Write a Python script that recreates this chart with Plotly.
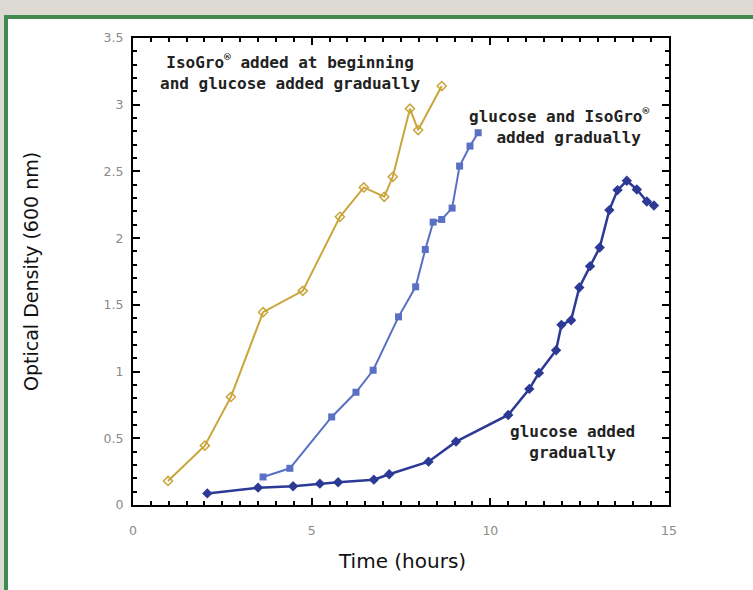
import plotly.graph_objects as go

# IsoGro added at beginning, glucose added gradually
gold_t = [0.98, 2.01, 2.74, 3.64, 4.75, 5.79, 6.46, 7.03, 7.27, 7.75, 7.98, 8.64]
gold_od = [0.18, 0.445, 0.81, 1.445, 1.605, 2.16, 2.38, 2.31, 2.46, 2.97, 2.81, 3.14]

# glucose and IsoGro added gradually
mid_t = [3.64, 4.39, 5.56, 6.24, 6.72, 7.43, 7.91, 8.18, 8.40, 8.64, 8.93, 9.14, 9.43, 9.66]
mid_od = [0.21, 0.275, 0.66, 0.845, 1.01, 1.41, 1.635, 1.915, 2.12, 2.14, 2.225, 2.54, 2.69, 2.79]

# glucose added gradually
dark_t = [2.08, 3.50, 4.48, 5.23, 5.74, 6.74, 7.17, 8.27, 9.04, 10.50, 11.09, 11.36,
          11.84, 11.99, 12.26, 12.49, 12.79, 13.06, 13.33, 13.56, 13.82, 14.10, 14.38, 14.58]
dark_od = [0.087, 0.13, 0.14, 0.16, 0.17, 0.19, 0.23, 0.325, 0.475, 0.675, 0.87, 0.99,
           1.16, 1.35, 1.385, 1.63, 1.79, 1.93, 2.21, 2.36, 2.43, 2.365, 2.275, 2.245]

x_ticks = [0, 5, 10, 15]
y_ticks = [0, 0.5, 1, 1.5, 2, 2.5, 3, 3.5]

GOLD = "#c9a53c"
MID = "#5a70c4"
DARK = "#2c3a96"

fig = go.Figure()
fig.add_trace(go.Scatter(x=gold_t, y=gold_od, mode="lines+markers",
                         line=dict(color=GOLD, width=2),
                         marker=dict(symbol="diamond-open", size=7, color=GOLD, line=dict(width=1.5))))
fig.add_trace(go.Scatter(x=mid_t, y=mid_od, mode="lines+markers",
                         line=dict(color=MID, width=2),
                         marker=dict(symbol="square", size=7, color=MID)))
fig.add_trace(go.Scatter(x=dark_t, y=dark_od, mode="lines+markers",
                         line=dict(color=DARK, width=2.5),
                         marker=dict(symbol="diamond", size=8, color=DARK)))

L, R, T, B = 133, 84, 38, 85
W, H = 753, 590
pw, ph = W - L - R, H - T - B


def px(xp):
    return (xp - L) / pw


def py(yp):
    return (H - B - yp) / ph


# outer framed panel (white with green border)
fig.add_shape(type="rect", xref="paper", yref="paper", layer="below",
              x0=px(6), x1=px(790), y0=py(640), y1=py(17),
              fillcolor="white", line=dict(color="#3f8a4c", width=4))

axis_common = dict(showline=True, linecolor="black", linewidth=2, mirror="ticks",
                   ticks="inside", ticklen=7, tickwidth=1.5, tickcolor="black",
                   showgrid=False, zeroline=False,
                   tickfont=dict(family="DejaVu Sans", size=12.5, color="#8a8a8a"))

fig.update_xaxes(range=[0, 15], tickvals=x_ticks, ticktext=[str(v) for v in x_ticks],
                 minor=dict(dtick=0.5, ticks="inside", ticklen=4, tickwidth=1.5, tickcolor="black"),
                 ticklabelstandoff=13, **axis_common)
fig.update_yaxes(range=[0, 3.5], tickvals=y_ticks, ticktext=[("%g" % v) for v in y_ticks],
                 minor=dict(dtick=0.1, ticks="inside", ticklen=4, tickwidth=1.5, tickcolor="black"),
                 ticklabelstandoff=5, **axis_common)

ann_font = dict(family="DejaVu Sans Mono", size=16, color="#222222")
annotations = [
    dict(text="<b>IsoGro<sup>®</sup> added at beginning<br>and glucose added gradually</b>",
         x=px(290), y=py(72)),
    dict(text="<b>glucose and IsoGro<sup>®</sup><br>  added gradually</b>",
         x=px(559), y=py(126)),
    dict(text="<b>glucose added<br>gradually</b>",
         x=px(572), y=py(442)),
]
for a in annotations:
    fig.add_annotation(xref="paper", yref="paper", showarrow=False, xanchor="center",
                       yanchor="middle", align="center", font=ann_font, **a)

fig.add_annotation(text="Time (hours)", xref="paper", yref="paper", x=px(402), y=py(561),
                   showarrow=False, xanchor="center", yanchor="middle",
                   font=dict(family="DejaVu Sans", size=20, color="#111111"))
fig.add_annotation(text="Optical Density (600 nm)", xref="paper", yref="paper", x=px(31), y=py(272),
                   textangle=-90, showarrow=False, xanchor="center", yanchor="middle",
                   font=dict(family="DejaVu Sans", size=19, color="#111111"))

fig.update_layout(width=W, height=H, autosize=False,
                  margin=dict(l=L, r=R, t=T, b=B),
                  paper_bgcolor="#dddad4", plot_bgcolor="white",
                  showlegend=False)

fig.write_html("out.html", config={"displayModeBar": False},
               post_script="document.body.style.margin='0';document.body.style.overflow='hidden';")
